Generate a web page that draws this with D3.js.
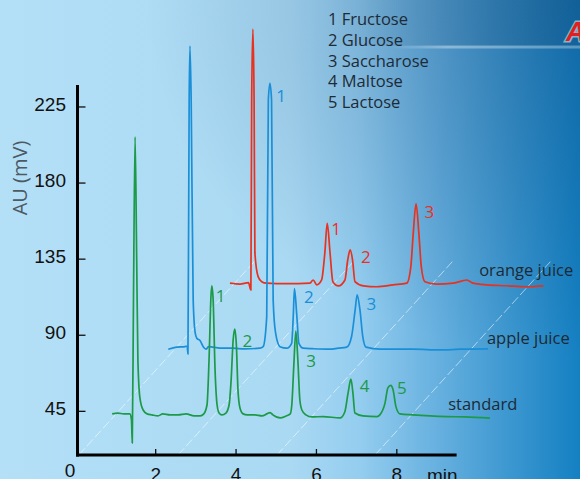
<!DOCTYPE html>
<html><head><meta charset="utf-8">
<script src="https://cdn.jsdelivr.net/npm/d3@7/dist/d3.min.js"></script>
<style>html,body{margin:0;padding:0;overflow:hidden;background:#b3e0f7}</style>
</head><body><svg id="chart" width="580" height="479"></svg>
<script>
// ---------- data ----------
const seriesNames = ["standard", "apple juice", "orange juice"];
const seriesColors = ["#1c9a47", "#1a8fd8", "#e8311f"];

const standardTime = [0.93,1.07,1.22,1.37,1.41,1.43,1.46,1.50,1.54,1.57,1.62,1.70,1.80,1.92,2.07,2.19,2.37,2.57,2.77,2.97,3.12,3.21,3.29,3.34,3.39,3.41,3.44,3.49,3.54,3.59,3.66,3.76,3.84,3.89,3.94,3.98,4.02,4.06,4.11,4.19,4.29,4.48,4.66,4.78,4.86,4.93,5.11,5.26,5.36,5.40,5.45,5.50,5.55,5.60,5.65,5.75,5.90,6.18,6.60,6.72,6.80,6.87,6.92,6.97,7.17,7.52,7.59,7.72,7.79,7.86,7.92,7.99,8.09,8.41,8.84,9.26,9.71,10.33];
const standardValue = [43.2,43.7,43.2,43.2,39.6,26.0,110.6,207.0,134.2,75.1,52.7,45.5,43.2,42.6,42.0,43.2,42.6,42.6,43.2,42.0,42.0,43.2,48.6,75.1,113.5,118.9,111.8,69.2,48.6,43.7,42.6,43.7,48.6,63.3,86.9,93.4,84.0,57.4,46.7,43.2,42.6,42.6,42.0,43.2,44.0,42.6,40.8,42.0,43.2,48.6,72.1,92.2,75.1,51.4,45.5,42.6,41.4,41.6,40.8,44.5,55.6,63.7,55.6,43.7,42.0,41.6,42.6,49.7,58.6,60.1,57.4,47.5,43.2,42.6,42.0,41.6,41.4,40.7];

const appleTime = [0.87,1.08,1.29,1.34,1.36,1.39,1.41,1.44,1.49,1.54,1.58,1.66,1.74,1.81,1.87,2.16,2.49,2.78,3.15,3.23,3.32,3.36,3.40,3.44,3.48,3.54,3.65,3.82,3.94,3.98,4.01,4.07,4.12,4.23,4.47,4.89,5.10,5.31,5.43,5.52,5.57,5.64,5.71,5.79,6.14,6.97,7.63,8.13,8.83];
const appleValue = [43.3,44.5,44.8,45.2,40.5,190.7,222.6,190.7,72.4,52.9,49.8,48.4,44.8,43.3,44.8,44.0,43.9,43.5,43.9,44.8,62.6,190.7,200.6,190.7,72.4,52.9,44.8,43.9,46.8,62.6,79.2,62.6,46.8,43.9,43.6,43.3,43.9,44.5,50.7,66.5,75.4,66.5,50.7,44.5,43.3,43.3,42.9,43.3,43.5];

const orangeTime = [0.95,1.20,1.41,1.47,1.49,1.52,1.55,1.57,1.65,1.74,1.86,2.36,2.94,3.02,3.11,3.23,3.31,3.37,3.44,3.51,3.65,3.81,3.88,3.94,4.00,4.06,4.27,4.60,5.01,5.35,5.45,5.51,5.58,5.65,5.71,5.80,6.09,6.51,6.84,7.00,7.34,7.84,8.33,8.75];
const orangeValue = [44.2,43.7,44.5,40.2,152.6,194.4,152.6,62.1,48.1,45.1,44.2,43.9,44.2,46.1,43.2,46.1,62.1,79.6,62.1,45.1,42.6,46.1,57.9,63.9,57.9,45.1,42.6,42.1,43.2,44.2,54.0,73.7,91.1,73.7,54.0,45.1,43.7,44.2,46.1,44.2,43.2,42.7,42.1,42.6];

// peak number labels (anchor in each trace's own axis units)
const standardPeakNames = ["1","2","3","4","5"];
const standardPeakTime  = [3.51,4.17,5.76,7.09,8.02];
const standardPeakValue = [109.6,83.0,71.0,56.3,55.0];
const applePeakNames = ["1","2","3"];
const applePeakTime  = [3.56,4.25,5.80];
const applePeakValue = [189.7,70.5,66.5];
const orangePeakNames = ["1","2","3"];
const orangePeakTime  = [3.47,4.21,5.79];
const orangePeakValue = [72.7,56.0,82.8];

const seriesLabelTime  = [9.29, 8.80, 7.15];
const seriesLabelValue = [45.5, 46.4, 48.5];

const legendItems = ["1 Fructose","2 Glucose","3 Saccharose","4 Maltose","5 Lactose"];
const yTicks = [45, 90, 135, 180, 225];
const xTicks = [2, 4, 6, 8];
const depthGridTimes = [0.10, 2.57, 5.03, 7.47];

// ---------- layout ----------
const W = 580, H = 479;
const axisLeftX = 77.5, axisBottomY = 455;
const depthStep = {dx: 58.5, dy: -64.5};
const x = d3.scaleLinear().domain([0, 9.5]).range([74.8, 456.6]);
const y = d3.scaleLinear().domain([17.7, 237.7]).range([457, 85]);

const svg = d3.select("#chart");
const defs = svg.append("defs");

// background
const bg = defs.append("linearGradient").attr("id","bg").attr("x1",0).attr("x2",1).attr("y1",0).attr("y2",0);
[[0,"#b3e0f7"],[0.5,"#aad9f3"],[0.62,"#94cdef"],[0.75,"#68b1e0"],[0.87,"#3f99d1"],[1,"#1480c2"]]
  .forEach(([o,c]) => bg.append("stop").attr("offset",o).attr("stop-color",c));
const rg = defs.append("radialGradient").attr("id","tr").attr("cx",1).attr("cy",0).attr("r",0.75);
rg.append("stop").attr("offset",0).attr("stop-color","#0b3d70").attr("stop-opacity",0.35);
rg.append("stop").attr("offset",1).attr("stop-color","#0b3d70").attr("stop-opacity",0);
const band = defs.append("linearGradient").attr("id","band").attr("x1",0).attr("x2",1);
band.append("stop").attr("offset",0).attr("stop-color","#13466f").attr("stop-opacity",0);
band.append("stop").attr("offset",0.35).attr("stop-color","#13466f").attr("stop-opacity",0.12);
band.append("stop").attr("offset",1).attr("stop-color","#13466f").attr("stop-opacity",0.25);
const stripe = defs.append("linearGradient").attr("id","stripe").attr("x1",0).attr("x2",1);
stripe.append("stop").attr("offset",0).attr("stop-color","#ffffff").attr("stop-opacity",0);
stripe.append("stop").attr("offset",0.3).attr("stop-color","#ffffff").attr("stop-opacity",0.35);
stripe.append("stop").attr("offset",1).attr("stop-color","#ffffff").attr("stop-opacity",0.3);

svg.append("rect").attr("width",W).attr("height",H).attr("fill","url(#bg)");
svg.append("rect").attr("width",W).attr("height",H).attr("fill","url(#tr)");
svg.append("rect").attr("x",330).attr("y",0).attr("width",250).attr("height",46).attr("fill","url(#band)");
svg.append("rect").attr("x",390).attr("y",45.5).attr("width",190).attr("height",3).attr("fill","url(#stripe)");

// logo fragment
svg.append("text").attr("x",566).attr("y",41).text("A")
  .attr("font-family","Liberation Sans, Arial, sans-serif").attr("font-weight","bold").attr("font-style","italic")
  .attr("font-size",27).attr("fill","#e41e1e").attr("stroke","#ffffff").attr("stroke-opacity",0.5)
  .attr("stroke-width",3).attr("paint-order","stroke");

// depth grid lines
svg.append("g").selectAll("line").data(depthGridTimes).join("line")
  .attr("x1", d => x(d)).attr("y1", axisBottomY)
  .attr("x2", d => x(d) + 3 * depthStep.dx).attr("y2", axisBottomY + 3 * depthStep.dy)
  .attr("stroke","#ffffff").attr("stroke-opacity",0.55).attr("stroke-width",1)
  .attr("stroke-dasharray","9 3");

// traces
const traces = [
  {t: standardTime, v: standardValue, pn: standardPeakNames, pt: standardPeakTime, pv: standardPeakValue},
  {t: appleTime, v: appleValue, pn: applePeakNames, pt: applePeakTime, pv: applePeakValue},
  {t: orangeTime, v: orangeValue, pn: orangePeakNames, pt: orangePeakTime, pv: orangePeakValue}
];
const line = d3.line().x(d => x(d[0])).y(d => y(d[1])).curve(d3.curveMonotoneX);
[2,1,0].forEach(i => {
  const tr = traces[i];
  const g = svg.append("g").attr("transform", `translate(${i*depthStep.dx},${i*depthStep.dy})`);
  g.append("path").datum(tr.t.map((t,k) => [t, tr.v[k]]))
    .attr("d", line).attr("fill","none").attr("stroke", seriesColors[i])
    .attr("stroke-width",1.7).attr("stroke-linejoin","round");
  g.selectAll("text.pk").data(tr.pn).join("text").attr("class","pk")
    .attr("x",(d,k) => x(tr.pt[k])).attr("y",(d,k) => y(tr.pv[k]))
    .attr("font-family","'Open Sans', sans-serif").attr("font-size",17)
    .attr("fill", seriesColors[i]).text(d => d);
  g.append("text").attr("x", x(seriesLabelTime[i])).attr("y", y(seriesLabelValue[i]))
    .attr("font-family","'Open Sans', sans-serif").attr("font-size",16.5)
    .attr("fill","#1d2a35").text(seriesNames[i]);
});

// axes
const yAxis = d3.axisLeft(y).tickValues(yTicks).tickSizeInner(-8).tickSizeOuter(0).tickPadding(11.5);
const gy = svg.append("g").attr("transform",`translate(${axisLeftX},0)`).call(yAxis);
gy.select(".domain").remove();
gy.selectAll(".tick line").attr("stroke","#111").attr("stroke-width",1.3);
gy.selectAll(".tick text").attr("font-family","'Liberation Sans', Arial, sans-serif")
  .attr("font-size",19).attr("fill","#111").attr("dy","0.2em");

const xAxis = d3.axisBottom(x).tickValues(xTicks).tickSizeInner(-6).tickSizeOuter(0).tickPadding(13);
const gx = svg.append("g").attr("transform",`translate(0,${axisBottomY})`).call(xAxis);
gx.select(".domain").remove();
gx.selectAll(".tick line").attr("stroke","#111").attr("stroke-width",1.3);
gx.selectAll(".tick text").attr("font-family","'Liberation Sans', Arial, sans-serif")
  .attr("font-size",19).attr("fill","#111");

svg.append("line").attr("x1",axisLeftX).attr("x2",axisLeftX).attr("y1",y.range()[1]).attr("y2",axisBottomY+1.5)
  .attr("stroke","#000").attr("stroke-width",3);
svg.append("line").attr("x1",axisLeftX-1.5).attr("x2",x(9.5)).attr("y1",axisBottomY).attr("y2",axisBottomY)
  .attr("stroke","#000").attr("stroke-width",3);

svg.append("text").attr("x",70).attr("y",477).attr("text-anchor","middle").text("0")
  .attr("font-family","'Liberation Sans', Arial, sans-serif").attr("font-size",19).attr("fill","#111");
svg.append("text").attr("x",427).attr("y",481.5).text("min")
  .attr("font-family","'Liberation Sans', Arial, sans-serif").attr("font-size",19).attr("fill","#111");

svg.append("text").attr("transform","translate(27,178) rotate(-90)").attr("text-anchor","middle")
  .attr("font-family","'Open Sans', sans-serif").attr("font-size",20).attr("fill","#4d5963").text("AU (mV)");

// legend
svg.append("g").selectAll("text").data(legendItems).join("text")
  .attr("x",328).attr("y",(d,i) => 25 + i*20.75)
  .attr("font-family","'Open Sans', sans-serif").attr("font-size",16.5).attr("fill","#1e2b36")
  .text(d => d);
</script></body></html>
